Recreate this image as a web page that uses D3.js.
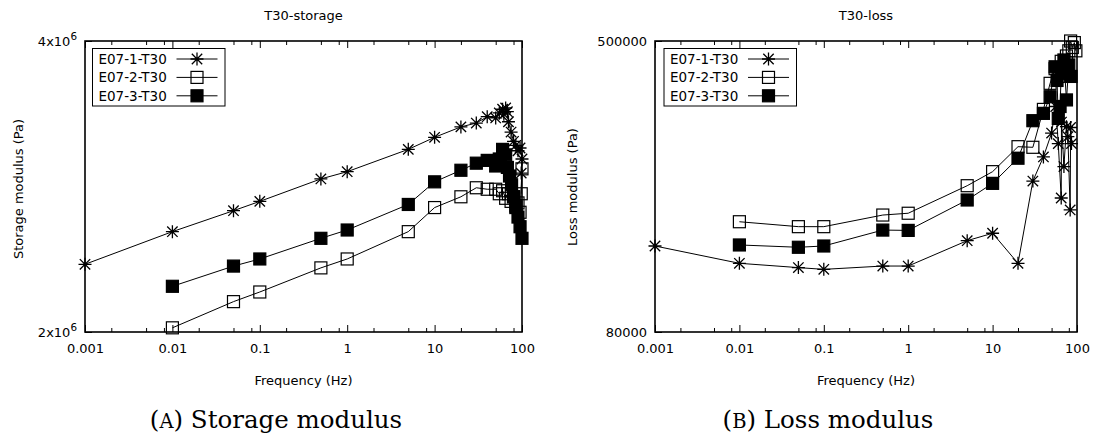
<!DOCTYPE html>
<html>
<head>
<meta charset="utf-8">
<script src="https://cdn.jsdelivr.net/npm/d3@7"></script>
<style>
  body { margin: 0; background: #fff; }
  svg { display: block; }
</style>
</head>
<body>
<svg id="chart"></svg>
<script>
const WIDTH = 1095;
const HEIGHT = 440;

const SERIES_NAMES = ['E07-1-T30', 'E07-2-T30', 'E07-3-T30'];
const FREQ_TICKS = [0.001, 0.01, 0.1, 1, 10, 100];
const FREQ_LABELS = ['0.001', '0.01', '0.1', '1', '10', '100'];
const MINOR_STEPS = [2, 5, 8];

// storage modulus (Pa)
const storageFreq1 = [0.001, 0.01, 0.05, 0.1, 0.5, 1, 5, 10, 20, 30, 40, 50, 55, 60, 65, 62, 68, 70, 75, 80, 85, 90, 95, 100, 98];
const storage1 = [2.35e6, 2.54e6, 2.67e6, 2.73e6, 2.88e6, 2.93e6, 3.09e6, 3.18e6, 3.26e6, 3.29e6, 3.34e6, 3.33e6, 3.37e6, 3.40e6, 3.41e6, 3.36e6, 3.38e6, 3.30e6, 3.22e6, 3.15e6, 3.12e6, 3.08e6, 3.10e6, 3.02e6, 2.92e6];
const storageFreq2 = [0.01, 0.05, 0.1, 0.5, 1, 5, 10, 20, 30, 40, 50, 55, 60, 65, 70, 75, 80, 85, 90, 95, 100, 98];
const storage2 = [2.02e6, 2.15e6, 2.20e6, 2.33e6, 2.38e6, 2.54e6, 2.69e6, 2.76e6, 2.82e6, 2.81e6, 2.81e6, 2.78e6, 2.80e6, 2.75e6, 2.78e6, 2.73e6, 2.76e6, 2.70e6, 2.72e6, 2.66e6, 2.95e6, 2.78e6];
const storageFreq3 = [0.01, 0.05, 0.1, 0.5, 1, 5, 10, 20, 30, 40, 50, 55, 60, 65, 68, 72, 76, 80, 85, 90, 95, 100];
const storage3 = [2.23e6, 2.34e6, 2.38e6, 2.50e6, 2.55e6, 2.71e6, 2.86e6, 2.94e6, 2.99e6, 3.01e6, 2.97e6, 3.02e6, 3.09e6, 3.05e6, 2.96e6, 2.90e6, 2.84e6, 2.76e6, 2.69e6, 2.63e6, 2.57e6, 2.50e6];

// loss modulus (Pa)
const lossFreq1 = [0.001, 0.01, 0.05, 0.1, 0.5, 1, 5, 10, 20, 30, 40, 50, 56, 60, 65, 65.5, 70, 75, 78, 83, 84, 86];
const loss1 = [137500, 123300, 120000, 118700, 121200, 121200, 142200, 149000, 123300, 207000, 241000, 280000, 331000, 262000, 186000, 300000, 226700, 291500, 273700, 172600, 290000, 262000];
const lossFreq2 = [0.01, 0.05, 0.1, 0.5, 1, 5, 10, 20, 30, 40, 48, 55, 60, 65, 70, 75, 80, 84, 88, 93, 97];
const loss2 = [160200, 155300, 155300, 167100, 169000, 201000, 219600, 257000, 256000, 325000, 383000, 420000, 400000, 440000, 410000, 455000, 470000, 500000, 480000, 495000, 470000];
const lossFreq3 = [0.01, 0.05, 0.1, 0.5, 1, 5, 10, 20, 30, 40, 48, 55, 58, 60, 63, 65, 70, 75, 80, 85];
const loss3 = [138400, 136400, 137500, 152000, 151700, 183700, 204000, 239000, 302700, 317000, 352000, 425000, 390000, 307000, 331000, 408000, 443700, 345000, 430000, 400000];

const FONT = '"DejaVu Sans", sans-serif';

const svg = d3.select('#chart')
  .attr('width', WIDTH)
  .attr('height', HEIGHT)
  .attr('font-family', FONT);

svg.append('rect').attr('width', WIDTH).attr('height', HEIGHT).attr('fill', '#fff');

const zip = (xs, ys) => xs.map((x, i) => [x, ys[i]]);

// marker shapes: 0 = asterisk, 1 = open square, 2 = filled square
function drawMarker(g, type, x, y) {
  if (type === 0) {
    const a = 6.5, b = 5.2;
    g.append('path')
      .attr('d', `M${x - a},${y}H${x + a}M${x},${y - a}V${y + a}M${x - b},${y - b}L${x + b},${y + b}M${x - b},${y + b}L${x + b},${y - b}`)
      .attr('stroke', '#000')
      .attr('stroke-width', 1.3)
      .attr('fill', 'none');
  } else {
    g.append('rect')
      .attr('x', x - 6)
      .attr('y', y - 6)
      .attr('width', 12)
      .attr('height', 12)
      .attr('fill', type === 2 ? '#000' : 'none')
      .attr('stroke', '#000')
      .attr('stroke-width', 1.2);
  }
}

function minorTicks() {
  const out = [];
  FREQ_TICKS.slice(0, -1).forEach(t => MINOR_STEPS.forEach(m => out.push(t * m)));
  return out;
}

function drawPanel(cfg) {
  const { left, right, top, bottom } = cfg;
  const x = d3.scaleLog().domain([0.001, 100]).range([left, right]);
  const y = d3.scaleLog().domain(cfg.yDomain).range([bottom, top]);
  const g = svg.append('g');

  // title
  g.append('text')
    .attr('x', (left + right) / 2)
    .attr('y', 19.5)
    .attr('text-anchor', 'middle')
    .attr('font-size', 13)
    .text(cfg.title);

  // bottom axis with labels
  const xAxis = d3.axisBottom(x)
    .tickValues(FREQ_TICKS)
    .tickFormat((d, i) => FREQ_LABELS[i])
    .tickSize(-7)
    .tickPadding(12);
  g.append('g')
    .attr('transform', `translate(0,${bottom})`)
    .call(xAxis)
    .call(a => a.select('.domain').remove())
    .call(a => a.selectAll('text').attr('font-size', 13).attr('fill', '#000').attr('font-family', FONT))
    .call(a => a.selectAll('line').attr('stroke', '#000'));

  // minor ticks bottom and top, mirrored major ticks on top
  g.append('g')
    .attr('transform', `translate(0,${bottom})`)
    .call(d3.axisBottom(x).tickValues(minorTicks()).tickFormat('').tickSize(-4))
    .call(a => a.select('.domain').remove())
    .call(a => a.selectAll('line').attr('stroke', '#000'));
  g.append('g')
    .attr('transform', `translate(0,${top})`)
    .call(d3.axisTop(x).tickValues(FREQ_TICKS).tickFormat('').tickSize(-7))
    .call(a => a.select('.domain').remove())
    .call(a => a.selectAll('line').attr('stroke', '#000'));
  g.append('g')
    .attr('transform', `translate(0,${top})`)
    .call(d3.axisTop(x).tickValues(minorTicks()).tickFormat('').tickSize(-4))
    .call(a => a.select('.domain').remove())
    .call(a => a.selectAll('line').attr('stroke', '#000'));

  // left axis
  const yAxis = d3.axisLeft(y)
    .tickValues(cfg.yTicks)
    .tickSize(-7)
    .tickPadding(8)
    .tickFormat(() => '');
  const ya = g.append('g')
    .attr('transform', `translate(${left},0)`)
    .call(yAxis)
    .call(a => a.select('.domain').remove())
    .call(a => a.selectAll('line').attr('stroke', '#000'));
  ya.selectAll('.tick text')
    .attr('font-size', 13)
    .attr('fill', '#000')
    .attr('font-family', FONT)
    .each(function (d, i) {
      const t = d3.select(this);
      const lab = cfg.yLabels[i];
      t.append('tspan').text(lab[0]);
      if (lab[1]) {
        t.append('tspan').attr('dy', '-0.5em').attr('font-size', '0.8em').text(lab[1]);
      }
    });

  // border
  g.append('rect')
    .attr('x', left)
    .attr('y', top)
    .attr('width', right - left)
    .attr('height', bottom - top)
    .attr('fill', 'none')
    .attr('stroke', '#000')
    .attr('stroke-width', 1.6);

  // axis titles
  g.append('text')
    .attr('x', (left + right) / 2)
    .attr('y', 384.5)
    .attr('text-anchor', 'middle')
    .attr('font-size', 13)
    .text('Frequency (Hz)');
  g.append('text')
    .attr('transform', `translate(${cfg.yTitleX},${cfg.yTitleY}) rotate(-90)`)
    .attr('text-anchor', 'middle')
    .attr('font-size', 13)
    .text(cfg.yTitle);

  // series
  const line = d3.line().x(d => x(d[0])).y(d => y(d[1]));
  cfg.series.forEach((s, k) => {
    g.append('path')
      .datum(s)
      .attr('d', line)
      .attr('fill', 'none')
      .attr('stroke', '#000')
      .attr('stroke-width', 1);
    const mg = g.append('g');
    s.forEach(d => drawMarker(mg, k, x(d[0]), y(d[1])));
  });

  // legend
  const lx = cfg.legendX;
  const lg = g.append('g');
  lg.append('rect')
    .attr('x', lx)
    .attr('y', 48.5)
    .attr('width', 132.5)
    .attr('height', 57.5)
    .attr('fill', '#fff')
    .attr('stroke', '#000')
    .attr('stroke-width', 1);
  SERIES_NAMES.forEach((name, k) => {
    const ry = 59 + k * 18.4;
    lg.append('text')
      .attr('x', lx + 6)
      .attr('y', ry + 4.8)
      .attr('font-size', 13.5)
      .text(name);
    lg.append('line')
      .attr('x1', lx + 84)
      .attr('x2', lx + 125)
      .attr('y1', ry)
      .attr('y2', ry)
      .attr('stroke', '#000')
      .attr('stroke-width', 1);
    drawMarker(lg, k, lx + 104.5, ry);
  });

  // caption
  const cap = svg.append('text')
    .attr('x', cfg.captionX)
    .attr('y', 428)
    .attr('text-anchor', 'middle')
    .attr('font-family', '"DejaVu Serif", serif')
    .attr('font-size', 24.5);
  cap.append('tspan').text('(');
  cap.append('tspan').attr('font-size', 19.5).text(cfg.captionLetter);
  cap.append('tspan').text(') ' + cfg.caption);
}

drawPanel({
  left: 85, right: 522, top: 41, bottom: 332,
  yDomain: [2e6, 4e6],
  yTicks: [2e6, 4e6],
  yLabels: [['2x10', '6'], ['4x10', '6']],
  title: 'T30-storage',
  yTitle: 'Storage modulus (Pa)',
  yTitleX: 22.5,
  yTitleY: 189,
  legendX: 92.5,
  captionX: 276,
  captionLetter: 'A',
  caption: 'Storage modulus',
  series: [zip(storageFreq1, storage1), zip(storageFreq2, storage2), zip(storageFreq3, storage3)]
});

drawPanel({
  left: 655, right: 1077, top: 41, bottom: 332,
  yDomain: [80000, 500000],
  yTicks: [80000, 500000],
  yLabels: [['80000'], ['500000']],
  title: 'T30-loss',
  yTitle: 'Loss modulus (Pa)',
  yTitleX: 577,
  yTitleY: 187,
  legendX: 664,
  captionX: 828,
  captionLetter: 'B',
  caption: 'Loss modulus',
  series: [zip(lossFreq1, loss1), zip(lossFreq2, loss2), zip(lossFreq3, loss3)]
});
</script>
</body>
</html>
